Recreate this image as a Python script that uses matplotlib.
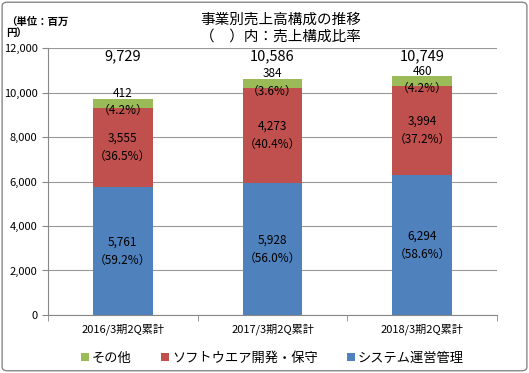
import matplotlib

matplotlib.use("Agg")
import matplotlib.pyplot as plt
from matplotlib.patches import FancyBboxPatch
from matplotlib.ticker import FuncFormatter, FixedLocator

plt.rcParams["font.family"] = ["Noto Sans CJK JP", "DejaVu Sans"]

# ── datos ──
periods = ["2016/3期2Q累計", "2017/3期2Q累計", "2018/3期2Q累計"]
sys_ops = [5761, 5928, 6294]
software = [3555, 4273, 3994]
other = [412, 384, 460]
sys_pct = [59.2, 56.0, 58.6]
soft_pct = [36.5, 40.4, 37.2]
other_pct = [4.2, 3.6, 4.2]
totals = [9729, 10586, 10749]

C_BLUE = "#4F81BD"
C_RED = "#C0504D"
C_GREEN = "#9BBB59"

fig = plt.figure(figsize=(5.29, 3.73), dpi=100)
ax = fig.add_axes([0.0907, 0.1555, 0.8488, 0.7158])

x = range(len(periods))
w = 0.4
b1 = ax.bar(x, sys_ops, w, color=C_BLUE, label="システム運営管理", zorder=2)
b2 = ax.bar(x, software, w, bottom=sys_ops, color=C_RED,
            label="ソフトウエア開発・保守", zorder=2)
bottom3 = [a + b for a, b in zip(sys_ops, software)]
b3 = ax.bar(x, other, w, bottom=bottom3, color=C_GREEN, label="その他", zorder=2)

for i in x:
    ax.text(i, sys_ops[i] / 2, f"{sys_ops[i]:,}\n（{sys_pct[i]:.1f}%）",
            ha="center", va="center", fontsize=8.5, linespacing=1.5)
    ax.text(i, sys_ops[i] + software[i] / 2,
            f"{software[i]:,}\n（{soft_pct[i]:.1f}%）",
            ha="center", va="center", fontsize=8.5, linespacing=1.5)
    ax.text(i, bottom3[i] + other[i] / 2 + 50,
            f"{other[i]}\n（{other_pct[i]:.1f}%）",
            ha="center", va="center", fontsize=8.5, linespacing=1.45)
    ax.text(i, 11620, f"{totals[i]:,}", ha="center", va="center", fontsize=10.5)

ax.set_xlim(-0.5, 2.5)
ax.set_ylim(0, 12000)
ax.set_yticks(range(0, 12001, 2000))
ax.yaxis.set_major_formatter(FuncFormatter(lambda v, p: f"{int(v):,}"))
ax.set_xticks(list(x))
ax.set_xticklabels(periods, fontsize=8)
ax.xaxis.set_minor_locator(FixedLocator([-0.5, 0.5, 1.5, 2.5]))
ax.tick_params(axis="x", which="major", length=0, pad=6)
ax.tick_params(axis="x", which="minor", length=4, color="#888888")
ax.tick_params(axis="y", labelsize=8, length=4, color="#888888")
ax.grid(axis="y", color="#999999", linewidth=0.8, zorder=0)
for s in ["top", "right"]:
    ax.spines[s].set_visible(False)
ax.spines["left"].set_color("#888888")
ax.spines["bottom"].set_color("#888888")

handles = [b3, b2, b1]
fig.legend(handles, [h.get_label() for h in handles], loc="center",
           bbox_to_anchor=(0.515, 0.04), ncol=3, frameon=False, fontsize=9.5,
           handlelength=0.6, handleheight=0.6, columnspacing=2.2,
           handletextpad=0.25)

fig.text(0.53, 0.948, "事業別売上高構成の推移", ha="center", va="center",
         fontsize=10.5)
fig.text(0.53, 0.902, "（　）内：売上構成比率", ha="center", va="center",
         fontsize=10.5)
fig.text(0.012, 0.955, "（単位：百万\n円）", ha="left", va="top",
         fontsize=7.5, fontweight="bold", linespacing=1.3)

fig.patches.append(FancyBboxPatch((0.004, 0.006), 0.992, 0.988,
                                  boxstyle="round,pad=0,rounding_size=0.01",
                                  transform=fig.transFigure, fill=False,
                                  edgecolor="#888888", linewidth=1))

fig.savefig("out.png", dpi=100)
